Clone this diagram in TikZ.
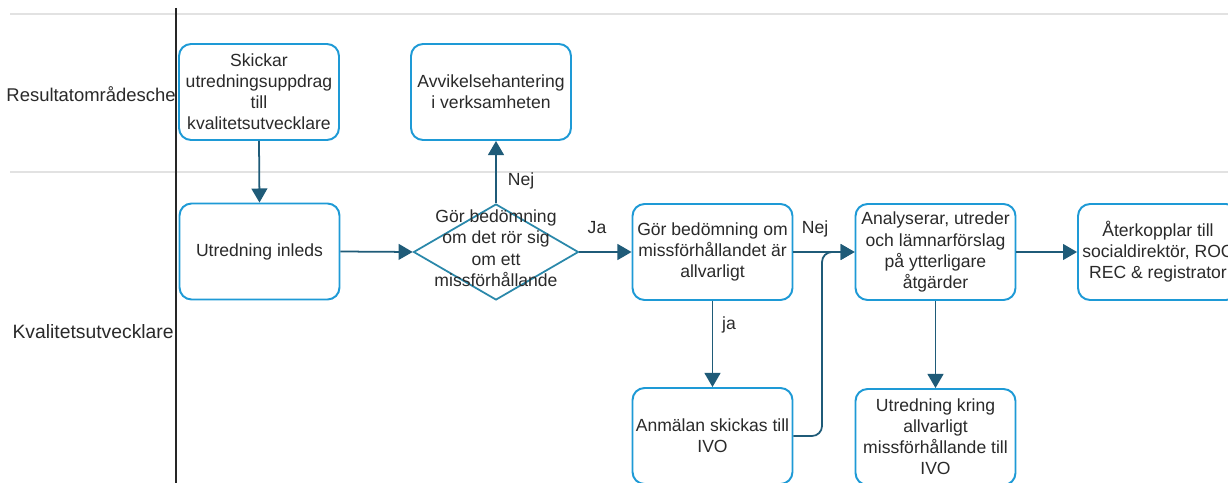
\documentclass[tikz,border=0pt]{standalone}
\usepackage{fontspec}
\setmainfont{Liberation Sans}
\usetikzlibrary{shapes.geometric,arrows.meta}
\definecolor{boxc}{HTML}{1E9AD6}
\definecolor{arrc}{HTML}{1F5B78}
\definecolor{diac}{HTML}{2A88AA}
\definecolor{txtc}{HTML}{2A2A2A}
\definecolor{lanec}{HTML}{E2E2E2}
\begin{document}
\begin{tikzpicture}[x=0.02cm,y=-0.02cm,
  font=\fontsize{10}{12}\selectfont, text=txtc,
  box/.style={draw=boxc, line width=1.1pt, rounded corners=0.24cm,
    minimum width=3.2cm, minimum height=1.92cm, align=center,
    inner sep=1pt, fill=white},
  decision/.style={diamond, draw=diac, line width=1pt, minimum width=3.3cm,
    minimum height=1.92cm, inner sep=0pt, fill=white},
  arr/.style={draw=arrc, line width=1pt, -{Triangle[width=9pt,length=8pt]}},
  lanelbl/.style={anchor=east, inner sep=0pt},
  edgelbl/.style={inner sep=1pt}]
\useasboundingbox (0,0) rectangle (1228,483);
\clip (0,0) rectangle (1228,483);
\fill[white] (0,0) rectangle (1228,483);
% lanes
\draw[lanec, line width=1.2pt] (10,14) -- (1228,14);
\draw[lanec, line width=1.2pt] (10,172) -- (1228,172);
\draw[black!85, line width=0.8pt] (176,8) -- (176,483);
\node[lanelbl, font=\fontsize{10.5}{12}\selectfont] (l1) at (176,94) {Resultatområdesche};
\node[lanelbl, font=\fontsize{11}{13}\selectfont] (l2) at (174,332) {Kvalitetsutvecklare};
% nodes
\node[box] (b1) at (259,92) {Skickar\\utredningsuppdrag\\till\\kvalitetsutvecklare};
\node[box] (av) at (491,92) {Avvikelsehantering\\i verksamheten};
\node[box] (ui) at (259.5,251.5) {Utredning inleds};
\node[decision] (d) at (496,252) {\smash{\makebox[0pt]{\raisebox{-1.5pt}{\begin{tabular}{@{}c@{}}Gör bedömning\\om det rör sig\\om ett\\missförhållande\end{tabular}}}}};
\node[box] (g) at (712.5,252) {Gör bedömning om\\missförhållandet är\\allvarligt};
\node[box] (an) at (712.5,436) {Anmälan skickas till\\IVO};
\node[box] (a) at (935.5,252) {Analyserar, utreder\\och lämnarförslag\\på ytterligare\\åtgärder};
\node[box] (uk) at (935.5,437) {Utredning kring\\allvarligt\\missförhållande till\\IVO};
\node[box] (r) at (1158,252) {Återkopplar till\\socialdirektör, ROC\\REC \& registrator};
% connectors
\draw[arr] (b1.south) -- (ui.north);
\draw[arr] (ui.east) -- (d.west);
\draw[arr] (d.north) -- (d.north |- av.south);
\draw[arr] (d.east) -- (g.west);
\draw[arr] (g.south) -- (an.north);
\draw[arr] (g.east) -- (a.west);
\draw[arr, rounded corners=0.2cm] (an.east) -- (822,436) -- (822,252) -- (a.west);
\draw[arr] (a.south) -- (uk.north);
\draw[arr] (a.east) -- (r.west);
% edge labels
\node[edgelbl] (nej1) at (521,181) {Nej};
\node[edgelbl] (ja1) at (597,228) {Ja};
\node[edgelbl] (ja2) at (729,325) {ja};
\node[edgelbl] (nej2) at (815,229) {Nej};
\end{tikzpicture}
\end{document}
